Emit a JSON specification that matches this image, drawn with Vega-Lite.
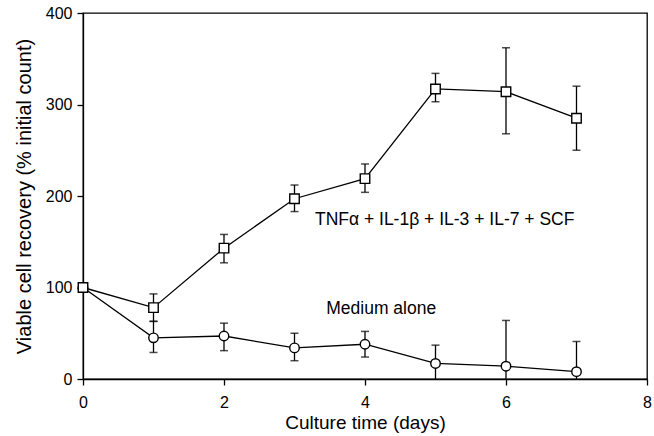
{
  "$schema": "https://vega.github.io/schema/vega-lite/v6.json",
  "width": 564,
  "height": 366,
  "autosize": {"type": "none"},
  "padding": {"left": 83, "top": 13, "right": 7, "bottom": 57},
  "background": "white",
  "config": {
    "view": {"stroke": "black", "strokeWidth": 1.3},
    "font": "Liberation Sans",
    "axis": {
      "grid": false,
      "domainColor": "black",
      "domainWidth": 1.3,
      "tickColor": "black",
      "tickWidth": 1.3,
      "tickSize": 6,
      "labelColor": "black",
      "titleColor": "black",
      "labelFont": "Liberation Sans",
      "titleFont": "Liberation Sans",
      "labelFontSize": 16,
      "labelFlush": false,
      "labelOverlap": false,
      "titleFontWeight": "normal"
    }
  },
  "datasets": {
    "series": [
      {"day": 0, "value": 100, "lo": null, "hi": null, "group": "TNF"},
      {"day": 1, "value": 78, "lo": 63, "hi": 93, "group": "TNF"},
      {"day": 2, "value": 143, "lo": 127, "hi": 158, "group": "TNF"},
      {"day": 3, "value": 197, "lo": 183, "hi": 212, "group": "TNF"},
      {"day": 4, "value": 219, "lo": 204, "hi": 235, "group": "TNF"},
      {"day": 5, "value": 317, "lo": 303, "hi": 334, "group": "TNF"},
      {"day": 6, "value": 314, "lo": 268, "hi": 362, "group": "TNF"},
      {"day": 7, "value": 285, "lo": 250, "hi": 320, "group": "TNF"},
      {"day": 0, "value": 100, "lo": null, "hi": null, "group": "Medium"},
      {"day": 1, "value": 45, "lo": 29, "hi": 63, "group": "Medium"},
      {"day": 2, "value": 47, "lo": 31, "hi": 61, "group": "Medium"},
      {"day": 3, "value": 34, "lo": 20, "hi": 50, "group": "Medium"},
      {"day": 4, "value": 38, "lo": 24, "hi": 52, "group": "Medium"},
      {"day": 5, "value": 17, "lo": 0, "hi": 37, "group": "Medium"},
      {"day": 6, "value": 14, "lo": 0, "hi": 64, "group": "Medium"},
      {"day": 7, "value": 8, "lo": 0, "hi": 41, "group": "Medium"}
    ],
    "labels": [
      {"day": 5.13, "value": 174, "text": "TNFα + IL-1β + IL-3 + IL-7 + SCF"},
      {"day": 4.23, "value": 76, "text": "Medium alone"}
    ]
  },
  "encoding": {
    "x": {
      "field": "day", "type": "quantitative",
      "scale": {"domain": [0, 8], "nice": false, "zero": false},
      "axis": {"values": [0, 2, 4, 6, 8], "title": "Culture time (days)", "titleFontSize": 19, "labelPadding": 9, "titlePadding": 3}
    },
    "y": {
      "field": "value", "type": "quantitative",
      "scale": {"domain": [0, 400], "nice": false},
      "axis": {"values": [0, 100, 200, 300, 400], "title": "Viable cell recovery (% initial count)", "titleFontSize": 20, "labelPadding": 5, "titlePadding": 11}
    }
  },
  "layer": [
    {
      "data": {"name": "series"},
      "transform": [{"filter": "datum.hi != null"}],
      "mark": {"type": "rule", "color": "black", "strokeWidth": 1.3},
      "encoding": {"y": {"field": "lo", "type": "quantitative"}, "y2": {"field": "hi"}}
    },
    {
      "data": {"name": "series"},
      "transform": [{"filter": "datum.hi != null"}],
      "mark": {"type": "tick", "orient": "horizontal", "color": "black", "size": 8, "thickness": 1.5},
      "encoding": {"y": {"field": "hi", "type": "quantitative"}}
    },
    {
      "data": {"name": "series"},
      "transform": [{"filter": "datum.hi != null && datum.lo > 0"}],
      "mark": {"type": "tick", "orient": "horizontal", "color": "black", "size": 8, "thickness": 1.5},
      "encoding": {"y": {"field": "lo", "type": "quantitative"}}
    },
    {
      "data": {"name": "series"},
      "mark": {"type": "line", "color": "black", "strokeWidth": 1.3},
      "encoding": {"detail": {"field": "group"}}
    },
    {
      "data": {"name": "series"},
      "mark": {"type": "point", "filled": true, "fill": "white", "stroke": "black", "strokeWidth": 1.4, "opacity": 1, "size": 90},
      "encoding": {
        "shape": {"field": "group", "type": "nominal", "scale": {"domain": ["Medium", "TNF"], "range": ["circle", "square"]}, "legend": null},
        "order": {"field": "group", "sort": "ascending"}
      }
    },
    {
      "data": {"name": "labels"},
      "mark": {"type": "text", "font": "Liberation Sans", "fontSize": 17.5, "color": "black", "align": "center", "baseline": "middle"},
      "encoding": {"text": {"field": "text"}}
    }
  ]
}
